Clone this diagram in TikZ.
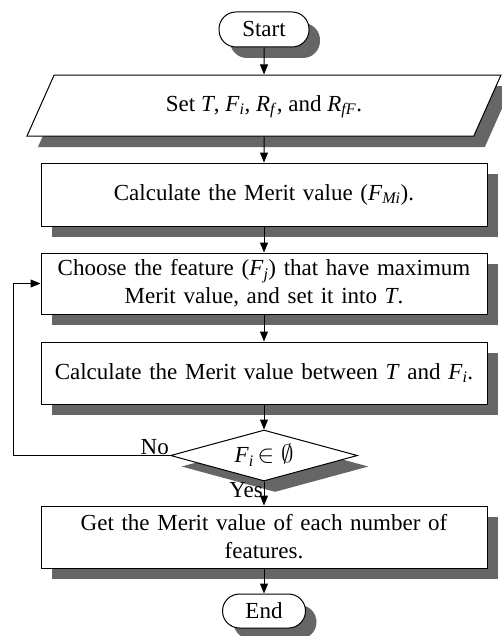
\documentclass[tikz,border=0pt]{standalone}
\usepackage{fontspec}
\setmainfont{Liberation Serif}
\usetikzlibrary{positioning,shapes.geometric,shadows,arrows.meta}

\newcommand{\vsub}[2]{\textit{#1}\textsubscript{\textit{#2}}}

\begin{document}
\begin{tikzpicture}[x=1pt,y=1pt,
        node distance=26pt,
        font=\fontsize{23}{28}\selectfont,
        shade/.style={drop shadow={shadow xshift=11pt,shadow yshift=-11pt,opacity=1,fill=black!60}},
        box/.style={draw,fill=white,line width=1pt,shade},
        block/.style={box,minimum width=446pt,text width=436pt,align=center,inner sep=0pt},
        term/.style={box,rounded corners=17pt,minimum height=35pt,inner sep=0pt},
        flow/.style={line width=1pt,-{Triangle[length=10pt,width=8pt]}}]
    \useasboundingbox (0,0) rectangle (501,-636);

    \node[term,minimum width=90pt] (start) at (264,-29.5) {Start};
    \node[box,trapezium,trapezium left angle=66,trapezium right angle=114,
          trapezium stretches body,minimum width=474pt,text height=16pt,text depth=5pt,
          inner xsep=0pt,inner ysep=20pt,below=27pt of start] (setvar)
        {Set \textit{T}, \vsub{F}{i}, \vsub{R}{f}, and \vsub{R}{fF}.};
    \node[block,minimum height=63pt,below=of setvar] (merit)
        {Calculate the Merit value (\vsub{F}{Mi}).};
    \node[block,minimum height=61pt,below=of merit] (choose)
        {Choose the feature (\vsub{F}{j}) that have maximum\\ Merit value, and set it into \textit{T}.};
    \node[block,minimum height=62pt,below=27pt of choose] (between)
        {Calculate the Merit value between \textit{T} and \vsub{F}{i}.};
    \node[box,diamond,aspect=3.6,minimum width=187pt,minimum height=51pt,inner sep=0pt,
          below=25pt of between] (check) {\vsub{F}{i}\,$\in\emptyset$};
    \node[block,minimum height=62pt,below=24pt of check] (getval)
        {Get the Merit value of each number of\\ features.};
    \node[term,minimum width=83pt,minimum height=34pt,below=25pt of getval] (stop) {End};

    \node[anchor=south east,inner sep=1pt] (no) at (check.west) {No};
    \node[anchor=north east,inner sep=1pt] (yes) at (check.south) {Yes};

    \draw[flow] (start) -- (setvar);
    \draw[flow] (setvar) -- (merit);
    \draw[flow] (merit) -- (choose);
    \draw[flow] (choose) -- (between);
    \draw[flow] (between) -- (check);
    \draw[flow] (check) -- (getval);
    \draw[flow] (getval) -- (stop);

    % loop back when the set is not empty
    \coordinate (back) at (13,0);
    \draw[flow] (check.west) -- (check.west -| back) |- (choose.west);
\end{tikzpicture}
\end{document}
